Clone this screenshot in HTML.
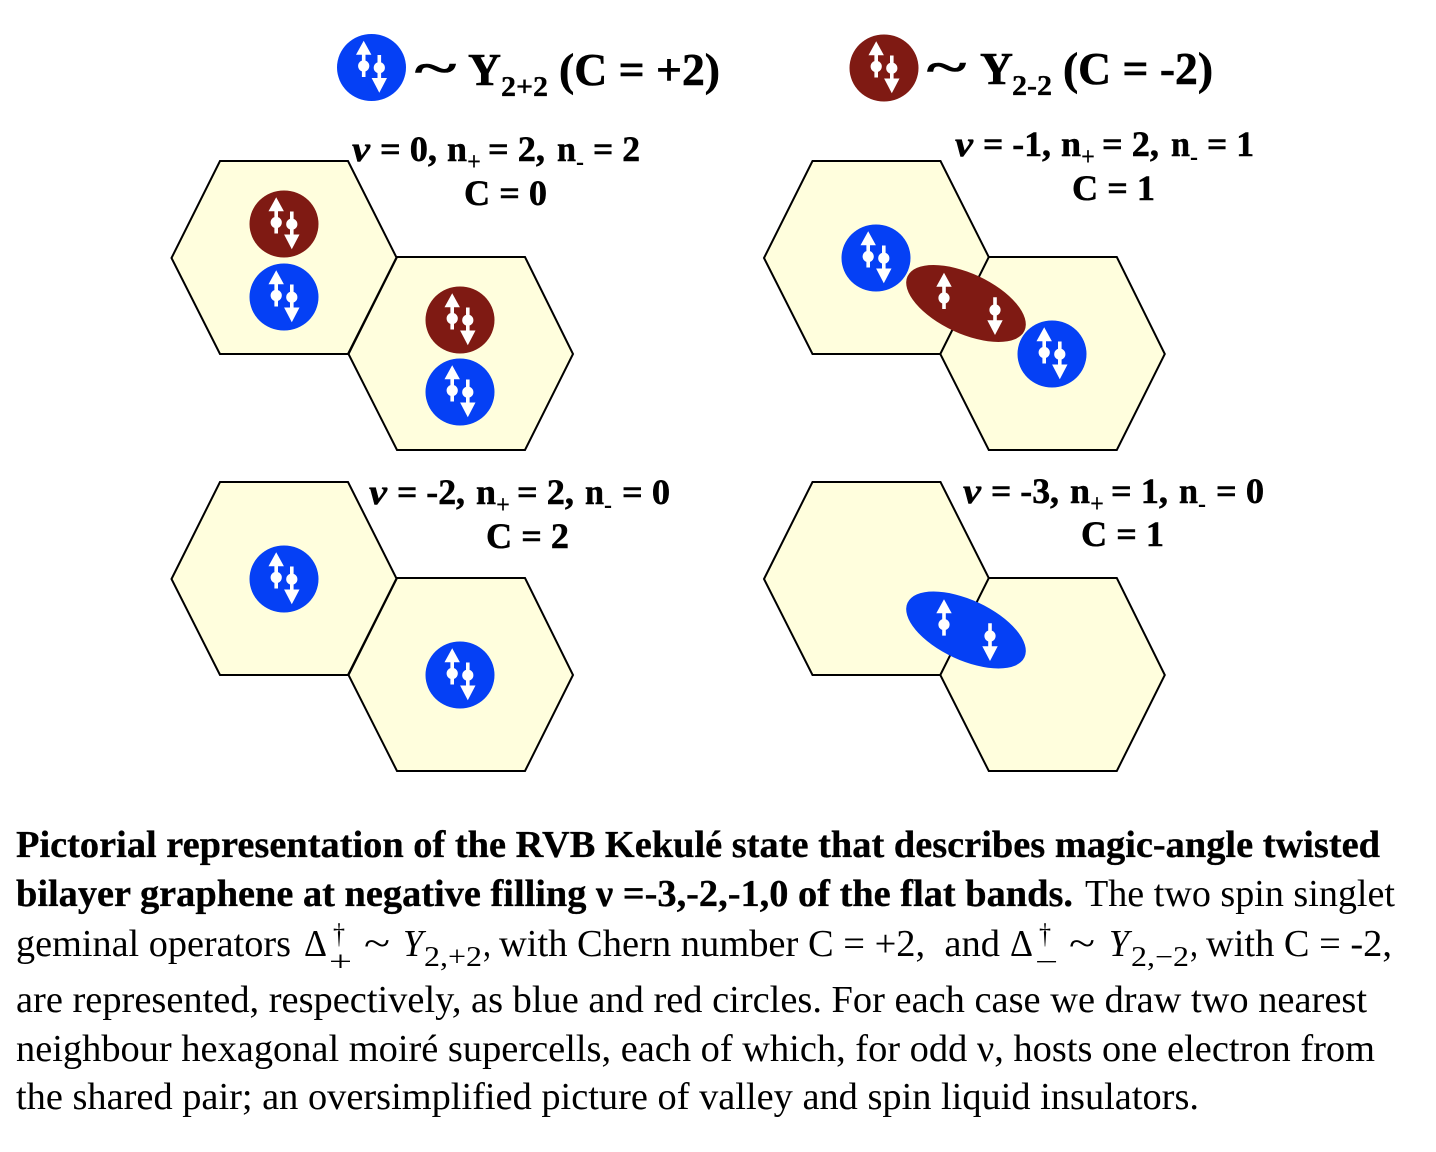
<!DOCTYPE html>
<html><head><meta charset="utf-8"><style>
html,body{margin:0;padding:0;background:#fff}
svg{display:block}
text{font-family:"Liberation Serif",serif;fill:#000;white-space:pre}
.h{font-size:46px;font-weight:bold;stroke:#000;stroke-width:.6px}
.hs{font-size:28px;font-weight:bold;stroke:#000;stroke-width:.3px}
.t{font-size:36px;font-weight:bold;stroke:#000;stroke-width:.5px}
.ts{font-size:26px;font-weight:bold}
.b{font-size:38px;font-weight:bold;stroke:#000;stroke-width:.3px}
.r{font-size:38px}
.s{font-size:28px}
</style></head><body>
<svg width="1436" height="1152" viewBox="0 0 1436 1152" xmlns="http://www.w3.org/2000/svg">
<defs>
<g id="up"><path d="M0,0 L7.7,14 L1.8,14 L1.8,36.3 L-1.8,36.3 L-1.8,14 L-7.7,14Z" fill="#fff"/><circle cx="0" cy="25.3" r="5.6" fill="#fff"/></g>
<g id="dn"><path d="M0,0 L7.7,-14.7 L1.8,-14.7 L1.8,-37.7 L-1.8,-37.7 L-1.8,-14.7 L-7.7,-14.7Z" fill="#fff"/><circle cx="0" cy="-25" r="5.6" fill="#fff"/></g>
<g id="arrows"><use href="#up" x="-7.8" y="-26.8"/><use href="#dn" x="7.8" y="25.2"/></g>
<g id="blue"><ellipse rx="34.5" ry="33.5" fill="#0540f5"/><use href="#arrows"/></g>
<g id="red"><ellipse rx="34.5" ry="33.5" fill="#7f1a13"/><use href="#arrows"/></g>
<path id="hexa" d="M171.5,258 L220,161 L348,161 L396.5,257.5 L348,354 L220,354Z" fill="#fffedd" stroke="#000" stroke-width="2"/>
<path id="hexb" d="M348.5,354 L397,257 L525,257 L573,354 L525,450 L397,450Z" fill="#fffedd" stroke="#000" stroke-width="2"/>
</defs>

<use href="#hexa"/>
<use href="#hexb"/>
<use href="#hexa" x="592.5"/>
<use href="#hexb" x="591.8"/>
<use href="#hexa" y="321"/>
<use href="#hexb" y="321"/>
<use href="#hexa" x="592.5" y="321"/>
<use href="#hexb" x="591.8" y="321"/>

<use href="#blue" x="371.5" y="67.5"/>
<use href="#red" x="884" y="68"/>

<use href="#red" x="284" y="224"/>
<use href="#blue" x="284" y="297"/>
<use href="#red" x="460" y="320"/>
<use href="#blue" x="460" y="392"/>

<use href="#blue" x="876" y="258"/>
<use href="#blue" x="1052" y="354"/>
<ellipse cx="966" cy="303.5" rx="64.5" ry="30" transform="rotate(25 966 303.5)" fill="#7f1a13"/>
<use href="#up" x="944" y="272.7"/>
<use href="#dn" x="995" y="335"/>

<use href="#blue" x="284" y="579"/>
<use href="#blue" x="460" y="675"/>

<ellipse cx="966" cy="630" rx="64.5" ry="30" transform="rotate(25 966 630)" fill="#0540f5"/>
<use href="#up" x="944" y="599.3"/>
<use href="#dn" x="990" y="661"/>

<!-- legend -->
<text class="h" x="415" y="83" textLength="41" lengthAdjust="spacingAndGlyphs">~</text>
<text class="h" x="468" y="85" textLength="33" lengthAdjust="spacingAndGlyphs">Y</text>
<text class="hs" x="501" y="96" textLength="47" lengthAdjust="spacingAndGlyphs">2+2</text>
<text class="h" x="559" y="85" textLength="161" lengthAdjust="spacingAndGlyphs">(C = +2)</text>

<text class="h" x="927" y="82" textLength="39" lengthAdjust="spacingAndGlyphs">~</text>
<text class="h" x="980" y="84" textLength="33" lengthAdjust="spacingAndGlyphs">Y</text>
<text class="hs" x="1012" y="95" textLength="40" lengthAdjust="spacingAndGlyphs">2-2</text>
<text class="h" x="1063" y="84" textLength="150" lengthAdjust="spacingAndGlyphs">(C = -2)</text>

<!-- state 0 -->
<text class="t" x="352" y="161" textLength="18" lengthAdjust="spacingAndGlyphs" font-style="italic">ν</text>
<text class="t" x="380" y="161" textLength="57" lengthAdjust="spacingAndGlyphs">= 0,</text>
<text class="t" x="447" y="161" textLength="20" lengthAdjust="spacingAndGlyphs">n</text>
<text class="ts" x="467" y="170" textLength="14" lengthAdjust="spacingAndGlyphs">+</text>
<text class="t" x="488" y="161" textLength="57" lengthAdjust="spacingAndGlyphs">= 2,</text>
<text class="t" x="557" y="161" textLength="19" lengthAdjust="spacingAndGlyphs">n</text>
<text class="ts" x="576" y="170" textLength="8" lengthAdjust="spacingAndGlyphs">-</text>
<text class="t" x="593" y="161" textLength="47" lengthAdjust="spacingAndGlyphs">= 2</text>
<text class="t" x="464" y="205" textLength="83" lengthAdjust="spacingAndGlyphs">C = 0</text>

<!-- state -1 -->
<text class="t" x="955" y="156" textLength="18" lengthAdjust="spacingAndGlyphs" font-style="italic">ν</text>
<text class="t" x="983" y="156" textLength="68" lengthAdjust="spacingAndGlyphs">= -1,</text>
<text class="t" x="1061" y="156" textLength="20" lengthAdjust="spacingAndGlyphs">n</text>
<text class="ts" x="1081" y="165" textLength="14" lengthAdjust="spacingAndGlyphs">+</text>
<text class="t" x="1102" y="156" textLength="57" lengthAdjust="spacingAndGlyphs">= 2,</text>
<text class="t" x="1171" y="156" textLength="19" lengthAdjust="spacingAndGlyphs">n</text>
<text class="ts" x="1190" y="165" textLength="8" lengthAdjust="spacingAndGlyphs">-</text>
<text class="t" x="1207" y="156" textLength="47" lengthAdjust="spacingAndGlyphs">= 1</text>
<text class="t" x="1072" y="200" textLength="83" lengthAdjust="spacingAndGlyphs">C = 1</text>

<!-- state -2 -->
<text class="t" x="369" y="504" textLength="18" lengthAdjust="spacingAndGlyphs" font-style="italic">ν</text>
<text class="t" x="397" y="504" textLength="68" lengthAdjust="spacingAndGlyphs">= -2,</text>
<text class="t" x="476" y="504" textLength="20" lengthAdjust="spacingAndGlyphs">n</text>
<text class="ts" x="496" y="513" textLength="14" lengthAdjust="spacingAndGlyphs">+</text>
<text class="t" x="517" y="504" textLength="57" lengthAdjust="spacingAndGlyphs">= 2,</text>
<text class="t" x="585" y="504" textLength="19" lengthAdjust="spacingAndGlyphs">n</text>
<text class="ts" x="604" y="513" textLength="8" lengthAdjust="spacingAndGlyphs">-</text>
<text class="t" x="622" y="504" textLength="48" lengthAdjust="spacingAndGlyphs">= 0</text>
<text class="t" x="486" y="548" textLength="83" lengthAdjust="spacingAndGlyphs">C = 2</text>

<!-- state -3 -->
<text class="t" x="963" y="503" textLength="18" lengthAdjust="spacingAndGlyphs" font-style="italic">ν</text>
<text class="t" x="991" y="503" textLength="68" lengthAdjust="spacingAndGlyphs">= -3,</text>
<text class="t" x="1070" y="503" textLength="20" lengthAdjust="spacingAndGlyphs">n</text>
<text class="ts" x="1090" y="512" textLength="14" lengthAdjust="spacingAndGlyphs">+</text>
<text class="t" x="1111" y="503" textLength="57" lengthAdjust="spacingAndGlyphs">= 1,</text>
<text class="t" x="1179" y="503" textLength="19" lengthAdjust="spacingAndGlyphs">n</text>
<text class="ts" x="1198" y="512" textLength="8" lengthAdjust="spacingAndGlyphs">-</text>
<text class="t" x="1216" y="503" textLength="48" lengthAdjust="spacingAndGlyphs">= 0</text>
<text class="t" x="1081" y="546" textLength="83" lengthAdjust="spacingAndGlyphs">C = 1</text>

<!-- caption -->
<text class="b" x="16" y="857" textLength="1364" lengthAdjust="spacingAndGlyphs">Pictorial representation of the RVB Kekulé state that describes magic-angle twisted</text>
<text class="b" x="16" y="906" textLength="1057" lengthAdjust="spacingAndGlyphs">bilayer graphene at negative filling ν =-3,-2,-1,0 of the flat bands.</text>
<text class="r" x="1085" y="906" textLength="310" lengthAdjust="spacingAndGlyphs">The two spin singlet</text>

<text class="r" x="16" y="956" textLength="275" lengthAdjust="spacingAndGlyphs">geminal operators</text>
<text class="r" x="304" y="956" textLength="23" lengthAdjust="spacingAndGlyphs">Δ</text>
<text class="s" x="333" y="943" textLength="12" lengthAdjust="spacingAndGlyphs">†</text>
<text class="s" x="329" y="971" textLength="23" lengthAdjust="spacingAndGlyphs">+</text>
<text class="r" x="364" y="956" textLength="26" lengthAdjust="spacingAndGlyphs">~</text>
<text class="r" x="403" y="956" font-style="italic" textLength="20" lengthAdjust="spacingAndGlyphs">Y</text>
<text class="s" x="424" y="966" textLength="58" lengthAdjust="spacingAndGlyphs">2,+2</text>
<text class="r" x="483" y="956" textLength="8" lengthAdjust="spacingAndGlyphs">,</text>
<text class="r" x="499" y="956" textLength="501" lengthAdjust="spacingAndGlyphs">with Chern number C = +2,  and</text>
<text class="r" x="1010" y="956" textLength="23" lengthAdjust="spacingAndGlyphs">Δ</text>
<text class="s" x="1039" y="943" textLength="12" lengthAdjust="spacingAndGlyphs">†</text>
<text class="s" x="1035" y="971" textLength="23" lengthAdjust="spacingAndGlyphs">−</text>
<text class="r" x="1069" y="956" textLength="26" lengthAdjust="spacingAndGlyphs">~</text>
<text class="r" x="1109" y="956" font-style="italic" textLength="20" lengthAdjust="spacingAndGlyphs">Y</text>
<text class="s" x="1131" y="966" textLength="58" lengthAdjust="spacingAndGlyphs">2,−2</text>
<text class="r" x="1190" y="956" textLength="8" lengthAdjust="spacingAndGlyphs">,</text>
<text class="r" x="1206" y="956" textLength="186" lengthAdjust="spacingAndGlyphs">with C = -2,</text>

<text class="r" x="16" y="1012" textLength="1351" lengthAdjust="spacingAndGlyphs">are represented, respectively, as blue and red circles. For each case we draw two nearest</text>
<text class="r" x="16" y="1061" textLength="1359" lengthAdjust="spacingAndGlyphs">neighbour hexagonal moiré supercells, each of which, for odd ν, hosts one electron from</text>
<text class="r" x="16" y="1109" textLength="1183" lengthAdjust="spacingAndGlyphs">the shared pair; an oversimplified picture of valley and spin liquid insulators.</text>
</svg>
</body></html>
